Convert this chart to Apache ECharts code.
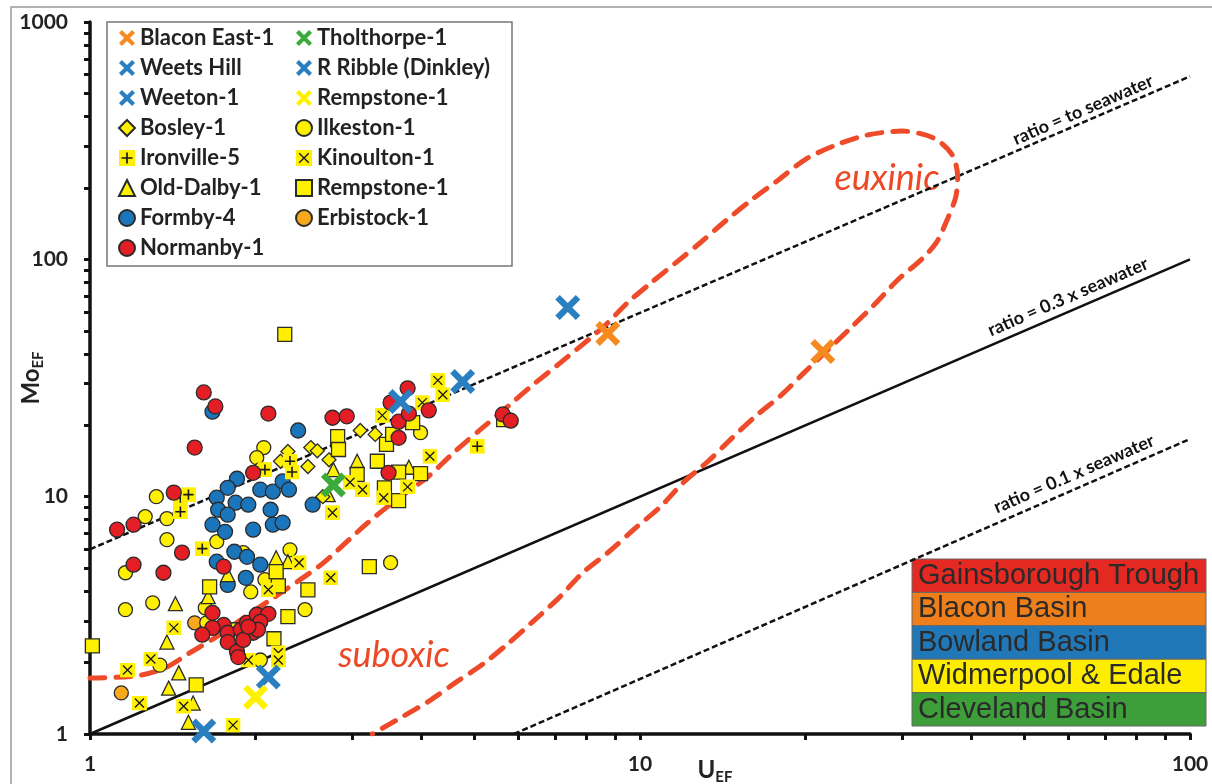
<!DOCTYPE html>
<html>
<head>
<meta charset="utf-8">
<script src="https://cdn.jsdelivr.net/npm/echarts@6/dist/echarts.min.js"></script>
<style>
  html, body { margin: 0; padding: 0; background: #fff; }
  #chart { width: 1212px; height: 784px; }
</style>
</head>
<body>
<div id="chart"></div>
<script>
// [U_EF, Mo_EF] pairs
const normanbyPts = [[1.61,27.5],[1.69,24.0],[2.11,22.4],[1.55,16.1],[2.76,21.5],[2.93,21.8],[3.64,17.7],[3.64,20.7],[3.80,22.4],[3.78,28.6],[4.13,23.1],[3.52,24.9],[3.49,12.6],[1.98,12.6],[1.42,10.4],[1.12,7.26],[1.20,7.62],[1.47,5.81],[1.20,5.17],[1.36,4.78],[1.75,5.07],[5.63,22.2],[5.82,20.9],[1.67,3.24],[1.75,2.88],[1.78,2.67],[1.67,2.80],[1.60,2.62],[1.78,2.44],[1.88,2.75],[1.93,2.94],[2.01,3.18],[2.11,3.21],[2.04,2.97],[1.98,2.67],[2.02,2.75],[1.85,2.22],[1.86,2.11],[1.90,2.49],[1.94,2.83]];
const formbyPts = [[1.85,11.9],[1.78,10.9],[1.70,9.9],[1.71,8.81],[1.84,9.43],[1.94,9.25],[2.04,10.7],[2.15,10.5],[2.24,11.6],[2.30,10.7],[2.54,9.25],[2.13,8.81],[2.15,7.62],[2.24,7.77],[1.98,7.26],[1.76,7.11],[1.67,7.62],[1.78,8.40],[1.83,5.86],[1.93,5.58],[2.04,5.17],[1.70,5.32],[1.78,4.25],[1.92,4.55],[2.39,19.0],[1.67,22.8]];
const bosleyPts = [[3.10,19.0],[3.30,18.3],[2.52,16.1],[2.59,15.6],[2.72,14.3],[2.22,14.1],[2.49,13.4],[2.29,15.5],[2.65,10.0]];
const ilkestonPts = [[2.07,16.1],[2.01,14.6],[2.04,13.0],[3.99,18.6],[1.32,10.0],[1.26,8.24],[1.38,8.08],[1.38,6.59],[1.70,6.46],[1.16,4.78],[1.90,5.81],[2.31,5.97],[2.08,4.47],[1.96,3.97],[1.62,3.40],[3.52,5.27],[1.16,3.34],[1.30,3.57],[1.63,2.94],[2.46,3.34],[2.04,2.05],[1.34,1.95]];
const ironvillePts = [[1.46,9.9],[1.51,10.2],[1.46,8.64],[1.60,6.04],[2.31,14.1],[2.33,12.7],[2.08,13.0],[5.06,16.3]];
const kinoultonPts = [[4.29,30.9],[4.38,26.9],[4.02,24.9],[3.40,22.0],[4.15,14.8],[2.76,8.56],[3.13,10.7],[2.97,11.5],[3.42,9.9],[3.78,11.0],[2.74,4.55],[2.40,5.27],[2.11,4.05],[1.94,2.05],[2.20,2.20],[2.20,2.05],[1.42,2.80],[1.29,2.07],[1.17,1.86],[1.23,1.35],[1.48,1.31],[1.82,1.09]];
const oldDalbyPts = [[2.77,13.0],[3.06,14.1],[3.80,13.3],[2.71,10.2],[2.18,5.53],[2.29,5.32],[1.78,4.69],[1.64,3.79],[1.43,3.54],[1.38,2.44],[1.45,1.81],[1.39,1.56],[1.54,1.35],[1.51,1.12]];
const rempstoneSqPts = [[2.26,48.3],[2.82,17.9],[2.83,15.8],[3.46,16.6],[3.55,18.3],[3.86,20.5],[3.06,12.4],[3.33,14.1],[3.64,12.7],[3.99,12.5],[3.43,10.9],[3.64,9.62],[3.22,5.07],[2.18,4.83],[2.20,4.21],[1.65,4.17],[2.49,4.05],[2.29,3.12],[1.85,2.75],[1.88,2.57],[2.16,2.52],[1.01,2.35],[1.56,1.61],[5.65,21.1]];
const erbistockPts = [[1.55,2.94],[1.14,1.49]];

const blaconPts = [[8.74,48.7],[21.5,40.9]];
const tholthorpePts = [[2.77,11.2]];
const weetsHillPts = [[7.39,62.7],[3.67,25.2]];
const rRibblePts = [[4.76,30.6]];
const weetonPts = [[2.11,1.74],[1.61,1.03]];
const rempstoneXPts = [[2.0,1.43]];

// reference lines and the euxinic / suboxic envelope
const seawaterLine = [[1,6.0],[100,590]];
const seawater03Line = [[1,1],[100,100]];
const seawater01Line = [[5.9,1],[100,17.5]];
const envelopePts = [[1.0,1.72],[1.22,1.76],[1.37,1.90],[1.52,2.20],[1.70,2.57],[1.88,3.03],[2.13,3.68],[2.41,4.47],[2.66,5.27],[3.20,7.77],[3.67,10.0],[4.11,12.1],[4.58,15.3],[5.13,19.2],[5.75,24.0],[6.33,29.1],[7.18,36.8],[8.60,52.2],[9.51,65.9],[10.5,80.0],[11.7,98],[12.9,118],[14.3,145],[15.9,177],[17.8,215],[20.0,264],[22.7,303],[25.9,334],[30.0,347],[34.2,324],[36.9,277],[37.8,224],[37.5,183],[36.1,145],[34.6,118],[32.5,100],[29.5,82.4],[26.7,64.6],[24.2,51.6],[22.0,41.7],[19.9,33.4],[18.1,26.9],[16.1,21.5],[14.6,17.4],[13.3,14.1],[12.0,11.5],[10.9,9.08],[9.83,7.40],[8.78,5.86],[7.87,4.78],[7.09,3.71],[6.38,2.97],[5.75,2.40],[5.18,1.97],[4.66,1.67],[4.16,1.39],[3.67,1.17],[3.26,1.0]];

const xTickValues = [1,2,3,4,5,6,7,8,9,10,20,30,40,50,60,70,80,90,100];
const xLabelValues = [1,10,100];
const yTickValues = [1,2,3,4,5,6,7,8,9,10,20,30,40,50,60,70,80,90,100,200,300,400,500,600,700,800,900,1000];
const yLabelValues = [1,10,100,1000];

const basinNames = ["Gainsborough Trough", "Blacon Basin", "Bowland Basin", "Widmerpool & Edale", "Cleveland Basin"];
const basinColors = ["#e42822", "#ef7f1a", "#2178b8", "#ffed00", "#3d9e3a"];

const YELLOW = "#fff000";
const CROSS = "path://M0,1.8L1.8,0L5,3.2L8.2,0L10,1.8L6.8,5L10,8.2L8.2,10L5,6.8L1.8,10L0,8.2L3.2,5Z";
const tile = inner => "image://data:image/svg+xml;charset=utf-8," + encodeURIComponent(
  `<svg xmlns="http://www.w3.org/2000/svg" width="32" height="32" viewBox="0 0 16 16"><rect width="16" height="16" fill="${YELLOW}"/>${inner}</svg>`);
const PLUS_TILE = tile('<path d="M8 2.5V13.5M2.5 8H13.5" stroke="#1a1a1a" stroke-width="1.7"/>');
const X_TILE = tile('<path d="M3.2 3.2L12.8 12.8M12.8 3.2L3.2 12.8" stroke="#1a1a1a" stroke-width="1.4"/>');

function dots(name, data, symbol, size, color, border = true) {
  return {
    name, type: "scatter", data, symbol, symbolSize: size,
    itemStyle: { color, borderColor: border ? "#2b2b2b" : color, borderWidth: border ? 1.3 : 0, opacity: 1 },
    emphasis: { disabled: true }
  };
}
function cross(name, data, color) {
  return { name, type: "scatter", data, symbol: CROSS, symbolSize: 25, z: 5,
    itemStyle: { color, opacity: 1 }, emphasis: { disabled: true } };
}
function refLine(data, type, width, color) {
  return { type: "line", data, symbol: "none", silent: true, z: 1,
    lineStyle: { type, width, color, cap: "butt" } };
}
// ticks at 2..9 of each decade, drawn by a bare value axis over log10 space
function tickAxis(position, max, values) {
  return {
    type: "value", position, min: 0, max, silent: true,
    axisLine: { show: false }, axisLabel: { show: false }, splitLine: { show: false },
    axisTick: { show: true, length: 6, lineStyle: { color: "#111", width: 3 }, customValues: values.map(Math.log10) }
  };
}

const chart = echarts.init(document.getElementById("chart"));
const boldLato = { fontFamily: "Lato", fontWeight: "bold" };
const legendBase = {
  orient: "vertical", top: 27, padding: 0, itemGap: 8, itemWidth: 16, itemHeight: 16, selectedMode: false,
  textStyle: { ...boldLato, fontSize: 22, color: "#222", lineHeight: 20 },
  formatter: n => n.replace(" (sq)", "")
};
const labelRot = 0.4075;
const ratioText = (text, x, y) => ({
  type: "text", x, y, rotation: labelRot, silent: true,
  style: { text, fill: "#111", font: "bold 18px Lato", align: "center", verticalAlign: "middle",
    textAlign: "center", textVerticalAlign: "middle" }
});
const zoneText = (text, x, y) => ({
  type: "text", x, y, silent: true,
  style: { text, fill: "#ec4a26", font: "italic 36px Lato", align: "center", verticalAlign: "middle",
    textAlign: "center", textVerticalAlign: "middle" }
});
const subRich = {
  m: { fontSize: 24, color: "#222", ...boldLato },
  s: { fontSize: 15, color: "#222", ...boldLato, padding: [14, 0, 0, 0] }
};

chart.setOption({
  animation: false,
  grid: { left: 90, right: 22, top: 22, bottom: 50, outerBoundsMode: "none", containLabel: false },
  xAxis: [{
    type: "log", logBase: 10, min: 1, max: 100, position: "bottom",
    axisLine: { lineStyle: { color: "#111", width: 3.5 } },
    axisTick: { show: false },
    axisLabel: { customValues: xLabelValues, formatter: v => String(v), color: "#222", fontSize: 21, margin: 20, ...boldLato },
    splitLine: { show: false }, minorTick: { show: false },
    name: "{m|U}{s|EF}", nameLocation: "middle", nameGap: 22, nameMoveOverlap: false,
    nameTextStyle: { padding: [0, 0, 0, 150], rich: subRich }
  }, tickAxis("bottom", 2, xTickValues)],
  yAxis: [{
    type: "log", logBase: 10, min: 1, max: 1000, position: "left",
    axisLine: { lineStyle: { color: "#111", width: 3.5 } },
    axisTick: { show: false },
    axisLabel: { customValues: yLabelValues, formatter: v => String(v), color: "#222", fontSize: 21, margin: 22, ...boldLato },
    splitLine: { show: false }, minorTick: { show: false },
    name: "{m|Mo}{s|EF}", nameLocation: "middle", nameGap: 44, nameRotate: 90, nameMoveOverlap: false,
    nameTextStyle: { rich: subRich }
  }, tickAxis("left", 3, yTickValues)],
  legend: [
    { ...legendBase, left: 118,
      data: ["Blacon East-1", "Weets Hill", "Weeton-1", "Bosley-1", "Ironville-5", "Old-Dalby-1", "Formby-4", "Normanby-1"] },
    { ...legendBase, left: 295,
      data: ["Tholthorpe-1", "R Ribble (Dinkley)", "Rempstone-1", "Ilkeston-1", "Kinoulton-1", "Rempstone-1 (sq)", "Erbistock-1"] }
  ],
  series: [
    refLine(seawaterLine, [6, 3], 2.5, "#111"),
    refLine(seawater03Line, "solid", 2.5, "#111"),
    refLine(seawater01Line, [6, 3], 2.5, "#111"),
    { type: "line", data: envelopePts, symbol: "none", smooth: 0.3, silent: true, z: 1,
      lineStyle: { type: [15, 11], width: 5, color: "#ee4b2b", cap: "round" } },
    dots("Erbistock-1", erbistockPts, "circle", 14, "#f7a81b"),
    dots("Ilkeston-1", ilkestonPts, "circle", 14, YELLOW),
    dots("Formby-4", formbyPts, "circle", 15, "#1b75bb"),
    dots("Old-Dalby-1", oldDalbyPts, "triangle", 14, YELLOW),
    dots("Bosley-1", bosleyPts, "diamond", 14, YELLOW),
    dots("Rempstone-1 (sq)", rempstoneSqPts, "rect", 14, YELLOW),
    dots("Kinoulton-1", kinoultonPts, X_TILE, 15, YELLOW, false),
    dots("Ironville-5", ironvillePts, PLUS_TILE, 15, YELLOW, false),
    dots("Normanby-1", normanbyPts, "circle", 15, "#e31e24"),
    cross("Blacon East-1", blaconPts, "#f58a1f"),
    cross("Tholthorpe-1", tholthorpePts, "#3cab3c"),
    cross("Weets Hill", weetsHillPts, "#2a7fc0"),
    cross("R Ribble (Dinkley)", rRibblePts, "#2a7fc0"),
    cross("Weeton-1", weetonPts, "#2a7fc0"),
    cross("Rempstone-1", rempstoneXPts, "#fff000")
  ],
  graphic: [
    { type: "rect", silent: true, z: -10, shape: { x: 11, y: 7, width: 1400, height: 1000 },
      style: { fill: "none", stroke: "#9a9a9a", lineWidth: 1.5 } },
    { type: "rect", silent: true, shape: { x: 107, y: 22, width: 405, height: 244 },
      style: { fill: "#fff", stroke: "#777", lineWidth: 1.5 } },
    ...basinNames.map((name, i) => ({
      type: "group", silent: true,
      children: [
        { type: "rect", shape: { x: 912, y: 559 + i * 33.4, width: 294, height: 33.4 },
          style: { fill: basinColors[i], stroke: "#666", lineWidth: 1 } },
        { type: "text", x: 918, y: 576 + i * 33.4,
          style: { text: name, fill: "#2a2a2a", font: "29px 'Liberation Sans', Arial",
            verticalAlign: "middle", textVerticalAlign: "middle" } }
      ]
    })),
    zoneText("euxinic", 887, 178),
    zoneText("suboxic", 394, 655),
    ratioText("ratio = to seawater", 1083, 110),
    ratioText("ratio = 0.3 x seawater", 1068, 297),
    ratioText("ratio = 0.1 x seawater", 1074, 474)
  ]
});
</script>
</body>
</html>
